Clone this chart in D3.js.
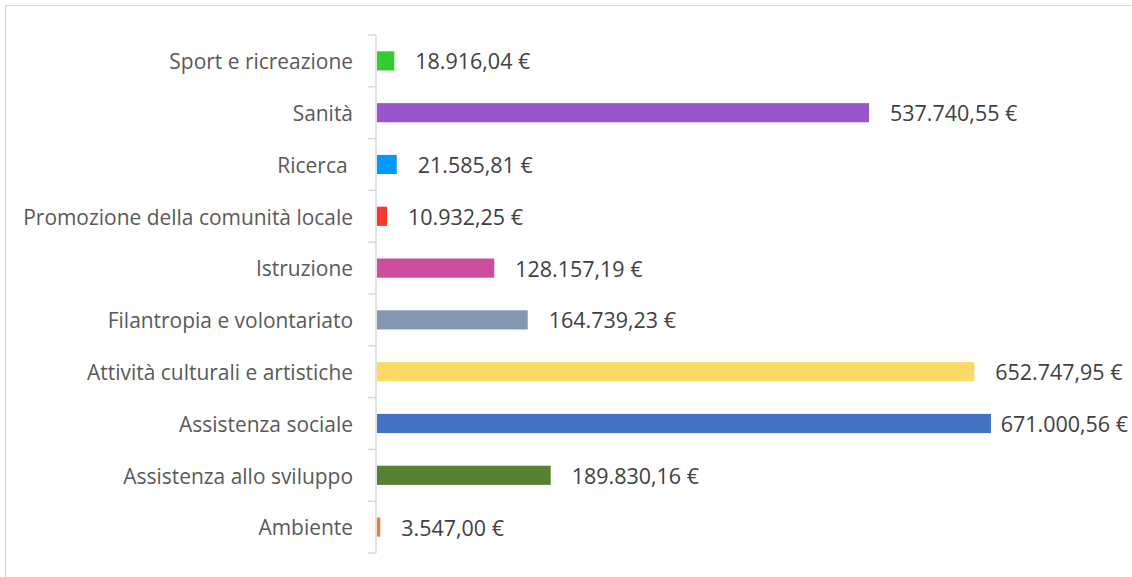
<!DOCTYPE html>
<html><head><meta charset="utf-8">
<script src="https://cdn.jsdelivr.net/npm/d3@7"></script>
<style>html,body{margin:0;padding:0;background:#fff;}svg{display:block;}</style>
</head><body>
<script>
const categories = ["Sport e ricreazione","Sanità","Ricerca ","Promozione della comunità locale","Istruzione","Filantropia e volontariato","Attività culturali e artistiche","Assistenza sociale","Assistenza allo sviluppo","Ambiente"];
const values = [18916.04,537740.55,21585.81,10932.25,128157.19,164739.23,652747.95,671000.56,189830.16,3547.00];
const labels = ["18.916,04 €","537.740,55 €","21.585,81 €","10.932,25 €","128.157,19 €","164.739,23 €","652.747,95 €","671.000,56 €","189.830,16 €","3.547,00 €"];
const colors = ["#33cc33","#9955cc","#0099ff","#f43a2c","#cc4f9f","#8497b0","#ffd966","#4472c4","#548235","#ed7d31"];

const W=1132,H=577;
const svg=d3.select("body").append("svg").attr("width",W).attr("height",H);
svg.append("rect").attr("x",5.5).attr("y",5.5).attr("width",W+10).attr("height",H+10)
  .attr("fill","#fff").attr("stroke","#d9d9d9").attr("stroke-width",1.2);

const x=d3.scaleLinear().domain([0,700000]).range([377,377+640.5]);
const y=d3.scaleBand().domain(categories).range([35,553]).paddingInner(0.63).paddingOuter(0.315);

const bounds=d3.range(categories.length+1).map(i=>35+i*(553-35)/categories.length);
svg.append("line").attr("x1",376).attr("x2",376).attr("y1",35).attr("y2",553).attr("stroke","#d9d9d9").attr("stroke-width",1.5);
svg.selectAll("line.tk").data(bounds).join("line").attr("class","tk")
  .attr("x1",368).attr("x2",376).attr("y1",d=>d).attr("y2",d=>d).attr("stroke","#d9d9d9").attr("stroke-width",1.5);

const catT=svg.selectAll("text.cat").data(categories).join("text").attr("class","cat")
  .attr("x",353).attr("y",d=>y(d)+y.bandwidth()/2).attr("dy","0.4em")
  .attr("text-anchor","end").attr("fill","#595959")
  .style("font-family","'Open Sans', Lato, sans-serif").style("font-size","19px").style("white-space","pre")
  .text(d=>d);
catT.filter(d=>d.startsWith("Promozione")).each(function(){
  const w=this.getComputedTextLength();
  const fs=19*330/w;
  catT.style("font-size",fs+"px");
});

svg.selectAll("rect.bar").data(values).join("rect").attr("class","bar")
  .attr("x",x(0)).attr("y",(d,i)=>y(categories[i])).attr("height",y.bandwidth())
  .attr("width",d=>x(d)-x(0)).attr("fill",(d,i)=>colors[i]);

const vt=svg.selectAll("text.val").data(values).join("text").attr("class","val")
  .attr("y",(d,i)=>y(categories[i])+y.bandwidth()/2).attr("dy","0.4em")
  .attr("fill","#404040")
  .style("font-family","'Open Sans', Lato, sans-serif").style("font-size","19px")
  .text((d,i)=>labels[i]);
vt.filter((d,i)=>i===0).each(function(){
  const w=this.getComputedTextLength();
  vt.style("font-size",(19*115/w)+"px");
});
vt.each(function(d){
  const w=this.getComputedTextLength();
  let xx=x(d)+21;
  if(xx+w>1128) xx=1128-w;
  d3.select(this).attr("x",xx);
});
</script>
</body></html>
